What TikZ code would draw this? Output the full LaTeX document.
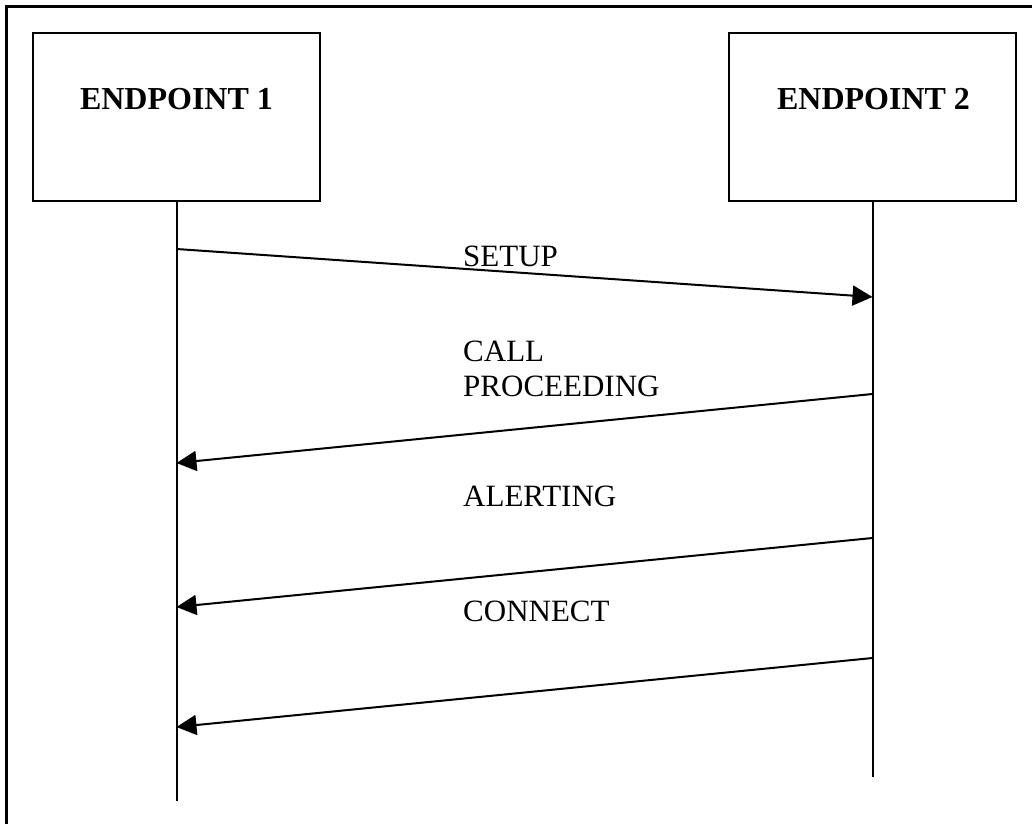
\documentclass[tikz,border=0pt]{standalone}
\usepackage{fontspec}
\setmainfont{Liberation Serif}
\usetikzlibrary{arrows.meta}
\begin{document}
\begin{tikzpicture}[x=1pt,y=-1pt,
  party/.style={draw,line width=2pt,minimum width=287pt,minimum height=168pt,inner sep=0pt},
  partyname/.style={font=\fontsize{32}{36}\selectfont\bfseries,anchor=base,inner sep=0pt},
  lifeline/.style={line width=2pt},
  msg/.style={line width=2pt,-{Triangle[length=20pt,width=20pt]}},
  msgtext/.style={font=\fontsize{31}{35}\selectfont,anchor=base west,inner sep=0pt,align=left}]
  \useasboundingbox (0,0) rectangle (1032,824);
  % outer frame
  \draw[line width=3.5pt] (6.5,824) -- (6.5,6.5) -- (1032,6.5);
  % endpoints
  \node[party] (e1) at (176.5,117) {};
  \node[party] (e2) at (872.5,117) {};
  \node[partyname] (e1t) at (176.5,110) {ENDPOINT 1};
  \node[partyname] (e2t) at (873.5,110) {ENDPOINT 2};
  % lifelines
  \coordinate (l1end) at (176.5,801);
  \coordinate (l2end) at (872.5,777);
  \draw[lifeline] (e1.south) -- (l1end);
  \draw[lifeline] (e2.south) -- (l2end);
  % message end points on the lifelines
  \coordinate (a1) at (176.5,249);  \coordinate (b1) at (872.5,297);
  \coordinate (b2) at (872.5,394);  \coordinate (a2) at (176.5,463);
  \coordinate (b3) at (872.5,538);  \coordinate (a3) at (176.5,607);
  \coordinate (b4) at (872.5,658);  \coordinate (a4) at (176.5,727);
  % messages
  \draw[msg] (a1) -- (b1);
  \draw[msg] (b2) -- (a2);
  \draw[msg] (b3) -- (a3);
  \draw[msg] (b4) -- (a4);
  % message labels
  \node[msgtext] (m1) at (463,266) {SETUP};
  \node[msgtext] (m2) at (463,396) {CALL\\PROCEEDING};
  \node[msgtext] (m3) at (463,506) {ALERTING};
  \node[msgtext] (m4) at (463,621) {CONNECT};
\end{tikzpicture}
\end{document}
